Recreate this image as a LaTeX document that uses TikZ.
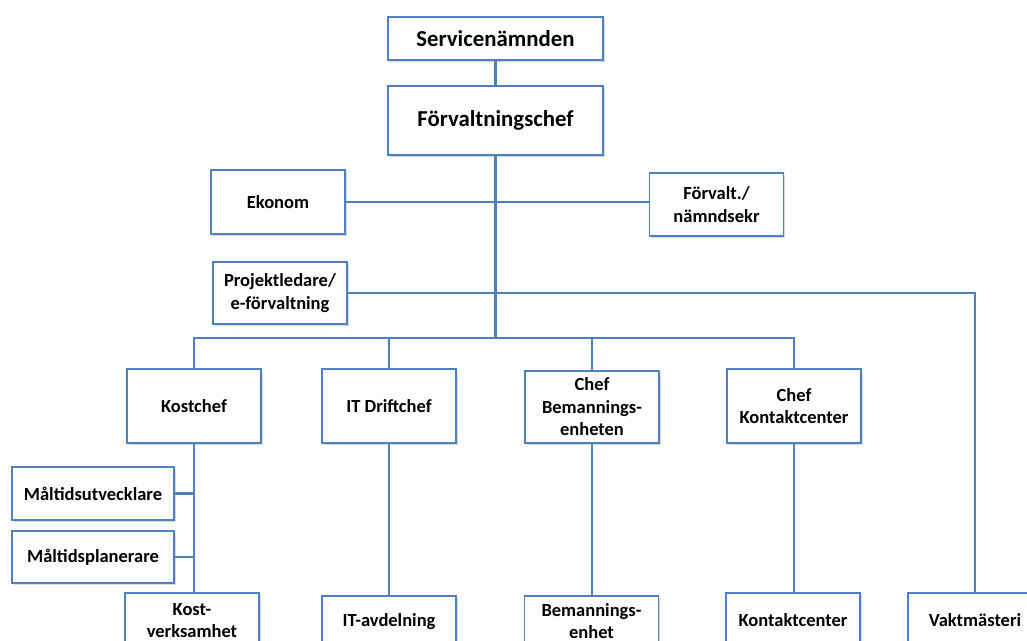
\documentclass[tikz,border=0pt]{standalone}
\usepackage{fontspec}
\setmainfont{Carlito}
\usetikzlibrary{shadows}
\definecolor{orgblue}{RGB}{79,129,189}
\tikzset{
  box/.style={draw=orgblue, line width=1.3pt, fill=white, align=center,
    inner sep=2pt, font=\bfseries\fontsize{18.5}{22.5}\selectfont,
    drop shadow={shadow xshift=1.5pt, shadow yshift=-2pt, opacity=.3}},
  topbox/.style={box, minimum width=215pt, font=\bfseries\fontsize{22.8}{26}\selectfont},
  unit/.style={box, minimum width=134pt},
  link/.style={draw=orgblue, line width=2.9pt},
}

\begin{document}
\begin{tikzpicture}[x=1pt,y=-1pt]
\useasboundingbox (0,0) rectangle (1027,640);
\clip (0,0) rectangle (1027,640);
% ledning
\node[topbox, minimum height=43pt] (service) at (495.5,38.5) {Servicenämnden};
\node[topbox, minimum height=69pt] (chef) at (495.5,120.5) {Förvaltningschef};
% stab
\node[unit, minimum height=64pt] (ekonom) at (278,202) {Ekonom};
\node[unit, minimum height=63pt] (forvalt) at (716.5,204.5) {Förvalt./\\nämndsekr};
\node[unit, minimum height=62pt] (projekt) at (280,293) {Projektledare/\\e-förvaltning};
% enhetschefer
\node[unit, minimum height=74pt] (kostchef) at (194,406) {Kostchef};
\node[unit, minimum height=74pt] (itchef) at (389,406) {IT Driftchef};
\node[unit, minimum height=72pt] (bemchef) at (592,407) {Chef\\Bemannings-\\enheten};
\node[unit, minimum height=74pt] (kontchef) at (794,406) {Chef\\Kontaktcenter};
% kost
\node[box, minimum width=162pt, minimum height=53pt] (utv) at (93,493.5) {Måltidsutvecklare};
\node[box, minimum width=162pt, minimum height=52pt] (plan) at (93,557) {Måltidsplanerare};
% verksamheter
\node[unit, minimum height=55pt] (kost) at (192,620.5) {Kost-\\verksamhet};
\node[unit, minimum height=52pt] (itavd) at (389,622) {IT-avdelning};
\node[unit, minimum height=50pt] (bemenh) at (591.5,621) {Bemannings-\\enhet};
\node[unit, minimum height=55pt] (kontakt) at (793,620.5) {Kontaktcenter};
\node[unit, minimum height=55pt] (vakt) at (975,620.5) {Vaktmästeri};

\coordinate (bus) at (495.5,338);
\draw[link] (service) -- (chef);
\draw[link] (chef.south) -- (bus);
\draw[link] (ekonom.east) -- (ekonom.east -| forvalt.west);
\draw[link] (projekt.east) -- (projekt.east -| vakt) -- (vakt.north);
\draw[link] (kostchef.north) -- (kostchef.north |- bus) -- (kontchef.north |- bus) -- (kontchef.north);
\foreach \n in {itchef,bemchef}
  \draw[link] (\n.north) -- (\n.north |- bus);
\draw[link] (kostchef.south) -- (kostchef.south |- kost.north);
\foreach \n in {utv,plan}
  \draw[link] (\n.east) -- (\n.east -| kostchef.south);
\draw[link] (itchef.south) -- (itavd.north);
\draw[link] (bemchef.south) -- (bemchef.south |- bemenh.north);
\draw[link] (kontchef.south) -- (kontchef.south |- kontakt.north);
\end{tikzpicture}
\end{document}
